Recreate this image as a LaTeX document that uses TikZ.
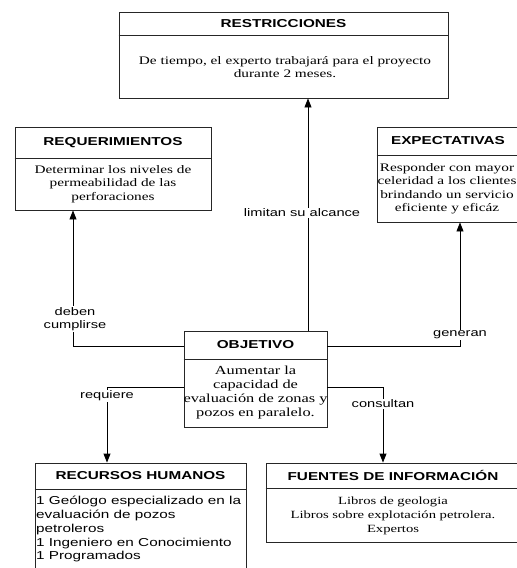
\documentclass[tikz,border=0pt]{standalone}
\usepackage{fontspec}
\setmainfont[FakeStretch=1.33]{Liberation Serif}
\setsansfont[FakeStretch=1.33]{Liberation Sans}
\usetikzlibrary{arrows.meta}
\begin{document}
\begin{tikzpicture}[x=1pt,y=-1pt,
  box/.style={draw=black!85, line width=0.9pt, rectangle, inner sep=0pt},
  head/.style={font=\sffamily\bfseries\fontsize{11.5}{13}\selectfont, inner sep=0pt},
  body/.style={font=\fontsize{11.5}{13.5}\selectfont, align=center, inner sep=0pt},
  lab/.style={font=\sffamily\fontsize{11}{13}\selectfont, fill=white, inner sep=1pt, align=center},
  conn/.style={draw=black, line width=0.9pt, -{Triangle[length=9pt,width=7pt]}},
  sepline/.style={draw=black!85, line width=0.9pt}]
\useasboundingbox[fill=white] (0,0) rectangle (517,568);

% boxes
\node[box, minimum width=329pt, minimum height=86pt] (restr) at (283.5,55) {};
\node[box, minimum width=196pt, minimum height=83pt] (req) at (113,168.5) {};
\node[box, minimum width=142pt, minimum height=95pt] (exp) at (448,174.5) {};
\node[box, minimum width=143pt, minimum height=96pt] (obj) at (255.5,379) {};
\node[box, minimum width=211pt, minimum height=116pt] (rh) at (140.5,521) {};
\node[box, minimum width=254pt, minimum height=79pt] (fue) at (393,502.5) {};

% header separators
\draw[sepline] (restr.west |- 0,35) -- (restr.east |- 0,35);
\draw[sepline] (req.west |- 0,158) -- (req.east |- 0,158);
\draw[sepline] (exp.west |- 0,155) -- (exp.east |- 0,155);
\draw[sepline] (obj.west |- 0,359) -- (obj.east |- 0,359);
\draw[sepline] (rh.west |- 0,489) -- (rh.east |- 0,489);
\draw[sepline] (fue.west |- 0,488) -- (fue.east |- 0,488);

% headers
\node[head] (restrh) at (283.5,23.5) {RESTRICCIONES};
\node[head] (reqh) at (113,142.5) {REQUERIMIENTOS};
\node[head] (exph) at (448,141) {EXPECTATIVAS};
\node[head] (objh) at (255.5,345) {OBJETIVO};
\node[head] (rhh) at (140.5,476) {RECURSOS HUMANOS};
\node[head] (fueh) at (393,475.5) {FUENTES DE INFORMACIÓN};

% bodies
\node[body] (restrb) at (285,67) {De tiempo, el experto trabajará para el proyecto\\durante 2 meses.};
\node[body] (reqb) at (113,184) {Determinar los niveles de\\permeabilidad de las\\perforaciones};
\node[body] (expb) at (447,188.5) {Responder con mayor\\celeridad a los clientes\\brindando un servicio\\eficiente y eficáz};
\node[body, font=\fontsize{12.3}{13.7}\selectfont] (objb) at (255.5,392.5) {Aumentar la\\capacidad de\\evaluación de zonas y\\pozos en paralelo.};
\node[body, font=\sffamily\fontsize{11.5}{13.8}\selectfont, align=left, anchor=north west] (rhb) at (36,496) {1 Geólogo especializado en la\\evaluación de pozos\\petroleros\\1 Ingeniero en Conocimiento\\1 Programados};
\node[body, font=\fontsize{11}{14}\selectfont] (fueb) at (393,516) {Libros de geologia\\Libros sobre explotación petrolera.\\Expertos};

% connectors
\draw[conn] (obj.north -| 308,0) -- (restr.south -| 308,0);
\draw[conn] (obj.west |- 0,346) -| (req.south -| 73,0);
\draw[conn] (obj.east |- 0,346) -| (exp.south -| 460,0);
\draw[conn] (obj.west |- 0,387) -| (rh.north -| 107,0);
\draw[conn] (obj.east |- 0,387) -| (fue.north -| 383,0);

% labels
\node[lab] (llim) at (302,213) {limitan su alcance};
\node[lab] (ldeb) at (75,319) {deben\\cumplirse};
\node[lab] (lgen) at (460,335) {generan};
\node[lab] (lreq) at (107,396) {requiere};
\node[lab] (lcon) at (383,404) {consultan};
\end{tikzpicture}
\end{document}
